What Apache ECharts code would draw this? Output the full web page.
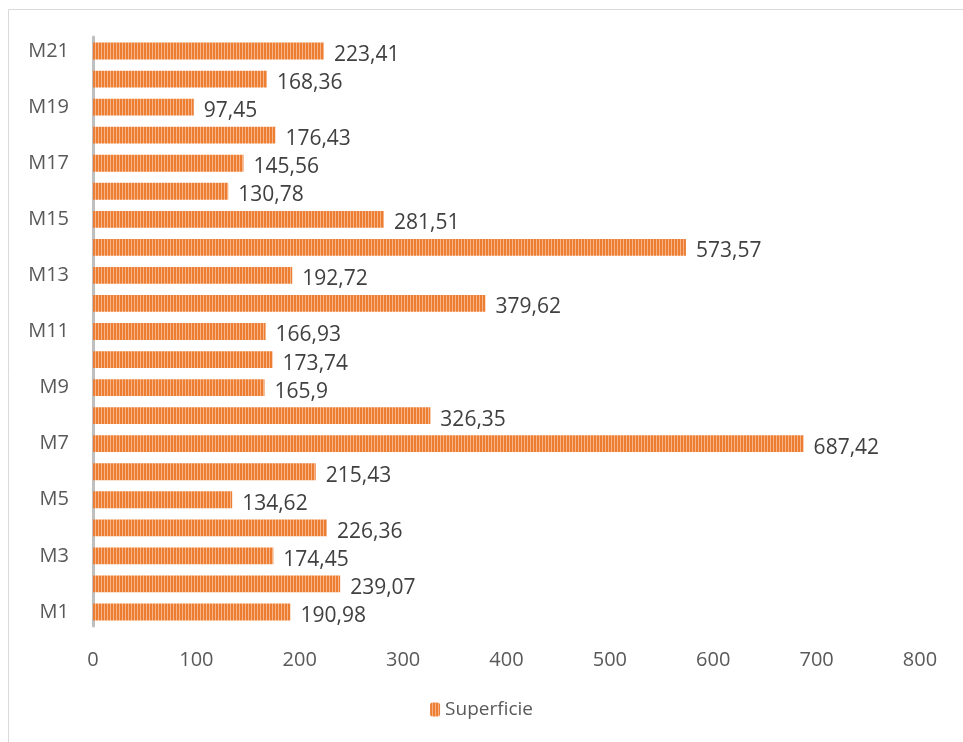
<!DOCTYPE html>
<html>
<head>
<meta charset="utf-8">
<script src="https://cdn.jsdelivr.net/npm/echarts@6/dist/echarts.min.js"></script>
<style>
  html, body { margin: 0; padding: 0; background: #fff; }
  #chart { width: 963px; height: 742px; }
</style>
</head>
<body>
<div id="chart"></div>
<script>
// données
var categories = ['M1', 'M2', 'M3', 'M4', 'M5', 'M6', 'M7', 'M8', 'M9', 'M10', 'M11',
  'M12', 'M13', 'M14', 'M15', 'M16', 'M17', 'M18', 'M19', 'M20', 'M21']
var superficie = [190.98, 239.07, 174.45, 226.36, 134.62, 215.43, 687.42, 326.35, 165.9, 173.74, 166.93,
  379.62, 192.72, 573.57, 281.51, 130.78, 145.56, 176.43, 97.45, 168.36, 223.41]
var seriesName = 'Superficie'

// motif rayé vertical
function stripes() {
  var c = document.createElement('canvas')
  c.width = 3
  c.height = 4
  var ctx = c.getContext('2d')
  ctx.fillStyle = '#ED7D31'
  ctx.fillRect(0, 0, 3, 4)
  ctx.fillStyle = '#F6B48A'
  ctx.fillRect(2, 0, 1, 4)
  return c
}
var pattern = { image: stripes(), repeat: 'repeat' }

var chart = echarts.init(document.getElementById('chart'))
chart.setOption({
  animation: false,
  textStyle: { fontFamily: 'Open Sans, Calibri, sans-serif' },
  grid: { left: 93, right: 43, top: 37, bottom: 116 },
  graphic: [
    { type: 'line', shape: { x1: 8.5, y1: 9.5, x2: 963, y2: 9.5 }, style: { stroke: '#D9D9D9', lineWidth: 1 }, silent: true },
    { type: 'line', shape: { x1: 8.5, y1: 9.5, x2: 8.5, y2: 742 }, style: { stroke: '#D9D9D9', lineWidth: 1 }, silent: true }
  ],
  legend: {
    bottom: 18,
    left: 'center',
    data: [seriesName],
    itemWidth: 10,
    itemHeight: 14,
    itemGap: 4,
    textStyle: { color: '#595959', fontSize: 19 }
  },
  xAxis: {
    type: 'value',
    min: 0,
    max: 800,
    interval: 100,
    splitLine: { show: false },
    axisLine: { show: false },
    axisTick: { show: false },
    axisLabel: { color: '#595959', fontSize: 20, margin: 24 }
  },
  yAxis: {
    type: 'category',
    data: categories,
    axisLine: { show: true, lineStyle: { color: '#BFBFBF', width: 3 } },
    axisTick: { show: false },
    axisLabel: { color: '#595959', fontSize: 20, interval: 1, margin: 24 }
  },
  series: [{
    name: seriesName,
    type: 'bar',
    data: superficie,
    barCategoryGap: '40%',
    itemStyle: { color: pattern },
    label: {
      show: true,
      position: 'right',
      distance: 10,
      color: '#404040',
      fontSize: 21,
      offset: [0, 4],
      formatter: function (p) { return String(p.value).replace('.', ',') }
    }
  }]
})
</script>
</body>
</html>
